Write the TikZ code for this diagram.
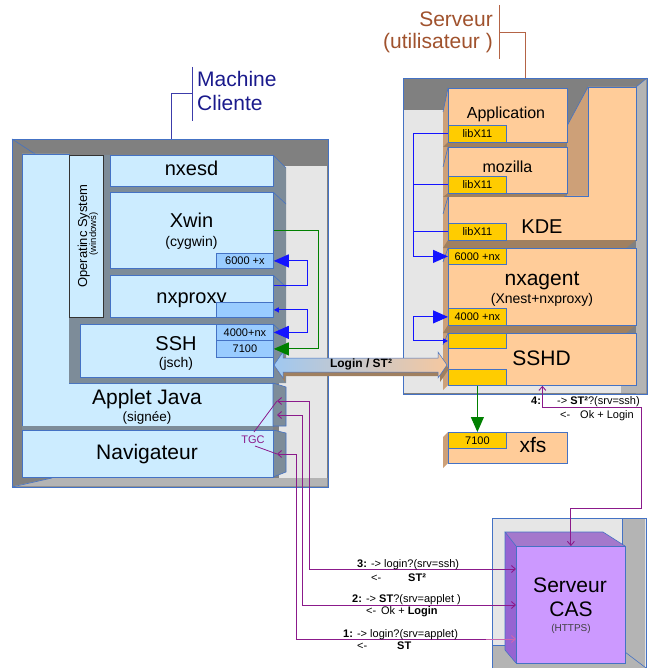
\documentclass[tikz,border=0pt]{standalone}
\usepackage{fontspec}
\setmainfont{Liberation Sans}
\usetikzlibrary{arrows.meta,calc}
\definecolor{cfill}{RGB}{204,236,255}
\definecolor{cborder}{RGB}{68,114,196}
\definecolor{cportc}{RGB}{153,204,255}
\definecolor{slate}{RGB}{125,140,153}
\definecolor{dgray}{RGB}{128,128,128}
\definecolor{lgray}{RGB}{230,230,230}
\definecolor{mgray}{RGB}{180,180,180}
\definecolor{sfill}{RGB}{255,204,153}
\definecolor{sportc}{RGB}{255,204,0}
\definecolor{shelf}{RGB}{160,128,96}
\definecolor{sside}{RGB}{205,160,120}
\definecolor{navyc}{RGB}{26,26,140}
\definecolor{navyl}{RGB}{60,60,170}
\definecolor{brownc}{RGB}{160,82,45}
\definecolor{brownl}{RGB}{180,100,70}
\definecolor{purp}{RGB}{139,26,139}
\definecolor{pinkp}{RGB}{204,102,176}
\definecolor{casfront}{RGB}{204,153,255}
\definecolor{castop}{RGB}{164,120,204}
\definecolor{casside}{RGB}{150,100,210}
\definecolor{bluec}{RGB}{20,20,255}
\definecolor{greenc}{RGB}{0,128,0}
\definecolor{arrl}{RGB}{160,200,240}
\definecolor{arrm}{RGB}{215,220,232}
\definecolor{arrr}{RGB}{245,200,160}
\newcommand{\fsz}[1]{\fontsize{#1}{#1}\selectfont}
\tikzset{
  bigtip/.tip={Triangle[length=15pt,width=13pt]},
  smalltip/.tip={Triangle[length=5pt,width=5pt]},
  barb/.tip={Straight Barb[length=4pt,width=7pt]},
  box/.style={draw=cborder, line width=0.8pt, inner sep=0pt, anchor=north west},
  cbox/.style={box, fill=cfill},
  cprt/.style={box, fill=cportc, font=\fsz{11}},
  sbox/.style={box, fill=sfill},
  sprt/.style={box, fill=sportc, font=\fsz{11}},
  frame/.style={draw=cborder, line width=1.2pt, inner sep=0pt, anchor=north west},
  lbl/.style={anchor=base, inner sep=0pt},
  lblw/.style={anchor=base west, inner sep=0pt, font=\fsz{11}},
  edge/.style={draw=cborder, line width=0.6pt},
  bl/.style={draw=bluec, line width=1pt},
  gl/.style={draw=greenc, line width=1pt},
  pl/.style={draw=purp, line width=0.9pt},
}
\begin{document}
\begin{tikzpicture}[x=1pt,y=-1pt]
\useasboundingbox (0,0) rectangle (654,668);

%% ---------------- labels with brackets
\node[lbl, anchor=base west, font=\fsz{21}, text=navyc] (mc1) at (197,87) {Machine};
\node[lbl, anchor=base west, font=\fsz{21}, text=navyc] (mc2) at (197,111) {Cliente};
\draw[navyl, line width=0.9pt] (192,67) -- (192,121);
\node[lbl, anchor=base east, font=\fsz{21}, text=brownc] (sv1) at (493,27) {Serveur};
\node[lbl, anchor=base east, font=\fsz{21}, text=brownc] (sv2) at (493,49) {(utilisateur )};
\draw[brownl, line width=0.9pt] (499,5) -- (499,59);

%% ---------------- client machine
\node[frame, fill=dgray, minimum width=316pt, minimum height=348pt] (client) at (12,139) {};
\fill[lgray] (279,166) rectangle (327.4,478);
\fill[mgray] (12.6,486.4) -- (52,478) -- (327.4,478) -- (327.4,486.4) -- cycle;
\draw[edge] (12,139) -- (35,154);
\draw[edge] (12,487) -- (52,478);
\coordinate (cb) at (171,93);
\draw[navyl, line width=0.9pt] (cb |- client.north) -- (cb) -- ++(21,0);

\filldraw[fill=cfill, draw=cborder, line width=0.8pt]
  (22,154) -- (69,154) -- (69,383) -- (273,383) -- (273,426) -- (22,426) -- cycle;
\fill[slate] (22,426.4) rectangle (273,430);
\fill[slate] (103,155) -- (273,155) -- (286,168) -- (286,383) -- (69,383) -- (69,317) -- (103,317) -- cycle;
\node[box, fill=cfill, draw=black!80, minimum width=34pt, minimum height=162pt] (os) at (69,155) {};
\node[lbl, rotate=90, font=\fsz{13}] (tos) at (87,236) {Operatinc System};
\node[lbl, rotate=90, font=\fsz{9.5}] (twin) at (96,234) {(windows)};

\node[cbox, minimum width=163pt, minimum height=31pt] (nxesd) at (110,155) {};
\node[cbox, minimum width=163pt, minimum height=76pt] (xwin) at (110,192) {};
\node[cbox, minimum width=163pt, minimum height=42pt] (nxproxy) at (110,275) {};
\node[cbox, minimum width=193pt, minimum height=53pt] (ssh) at (80,324) {};
\draw[edge] (273,155) -- (286,168);
\draw[edge] (273,192) -- (286,204);
\draw[edge] (273,275) -- (286,287);
\draw[edge] (273,324) -- (286,336);

\node[lbl, font=\fsz{20}] (tnxesd) at (191.5,176) {nxesd};
\node[lbl, font=\fsz{20}] (txwin) at (191.5,227) {Xwin};
\node[lbl, font=\fsz{14}] (tcyg) at (191.5,246) {(cygwin)};
\node[lbl, font=\fsz{20}] (tnxp) at (191.5,303) {nxproxy};
\node[lbl, font=\fsz{20}] (tssh) at (176,350) {SSH};
\node[lbl, font=\fsz{14}] (tjsch) at (176,367) {(jsch)};

\node[cprt, minimum width=57pt, minimum height=15pt] (p6000x) at (216,253) {6000 +x};
\node[cprt, minimum width=57pt, minimum height=15pt] (pnxp) at (216,302) {};
\node[cprt, minimum width=57pt, minimum height=16pt] (p4000) at (216,324) {4000+nx};
\node[cprt, minimum width=57pt, minimum height=17pt] (p7100c) at (216,340) {7100};

\filldraw[fill=slate, draw=cborder, line width=0.6pt] (273,383) -- (286,387) -- (286,426) -- (273,426) -- cycle;
\filldraw[fill=slate, draw=cborder, line width=0.6pt] (273,430) -- (286,433) -- (286,472) -- (273,477) -- cycle;
\node[box, draw=none, minimum width=251pt, minimum height=43pt] (applet) at (22,383) {};
\node[cbox, minimum width=251pt, minimum height=47pt] (navig) at (22,430) {};
\node[lbl, font=\fsz{21}] (tapp) at (147,404) {Applet Java};
\node[lbl, font=\fsz{13.5}] (tsig) at (147,421) {(signée)};
\node[lbl, font=\fsz{21}] (tnav) at (147,459) {Navigateur};

%% ---------------- server
\node[frame, fill=dgray, minimum width=244pt, minimum height=316pt] (server) at (403,78) {};
\coordinate (sb) at (525,32);
\draw[brownl, line width=0.9pt] (499,32) -- (sb) -- (sb |- server.north);
\fill[lgray] (403.6,110) rectangle (445,393.4);
\fill[lgray] (403.6,385) rectangle (621,393.4);
\fill[mgray] (621,385) rectangle (646.4,393.4);
\fill[mgray] (636,87) -- (646.4,78.6) -- (646.4,393.4) -- (636,393.4) -- cycle;
\draw[edge] (636,87) -- (647,78);
\fill[sside] (443,112) -- (448,88) -- (448,385) -- (443,390) -- cycle;
\fill[sside] (567,126) -- (588,87) -- (588,196) -- (567,196) -- cycle;
\draw[edge] (567,126) -- (588,87);
\filldraw[fill=sfill, draw=cborder, line width=0.8pt]
  (448,196) -- (588,196) -- (588,87) -- (636,87) -- (636,240) -- (448,240) -- cycle;
\fill[shelf] (448,142) -- (567,142) -- (564,147) -- (443,147) -- cycle;
\fill[shelf] (448,193) -- (567,193) -- (564,197) -- (443,197) -- cycle;
\fill[shelf] (448,240) -- (636,240) -- (626,248) -- (443,248) -- cycle;
\fill[shelf] (448,325) -- (636,325) -- (626,333) -- (443,333) -- cycle;
\node[sbox, minimum width=119pt, minimum height=54pt] (appl) at (448,88) {};
\node[sbox, minimum width=119pt, minimum height=46pt] (moz) at (448,147) {};
\node[sbox, minimum width=188pt, minimum height=77pt] (nxagent) at (448,248) {};
\node[sbox, minimum width=188pt, minimum height=52pt] (sshd) at (448,333) {};
\draw[edge] (448,88) -- (443,112);
\draw[edge] (448,147) -- (443,167);
\draw[edge] (448,197) -- (443,214);
\draw[edge] (448,248) -- (443,262);
\draw[edge] (448,333) -- (443,345);

\node[lbl, font=\fsz{16}] (tappl) at (506,119) {Application};
\node[lbl, font=\fsz{16}] (tmoz) at (507.5,173) {mozilla};
\node[lbl, font=\fsz{20}] (tkde) at (542,233) {KDE};
\node[lbl, font=\fsz{21}] (tnxa) at (542,285) {nxagent};
\node[lbl, font=\fsz{14}] (txn) at (542,303) {(Xnest+nxproxy)};
\node[lbl, font=\fsz{21}] (tsshd) at (541.5,365) {SSHD};

\node[sprt, minimum width=58pt, minimum height=17pt] (lib1) at (448,125) {libX11};
\node[sprt, minimum width=58pt, minimum height=17pt] (lib2) at (448,176) {libX11};
\node[sprt, minimum width=58pt, minimum height=17pt] (lib3) at (448,223) {libX11};
\node[sprt, minimum width=58pt, minimum height=16pt] (p6000nx) at (448,248) {6000 +nx};
\node[sprt, minimum width=58pt, minimum height=17pt] (p4000nx) at (448,308) {4000 +nx};
\node[sprt, minimum width=58pt, minimum height=15pt] (sp1) at (448,333) {};
\node[sprt, minimum width=58pt, minimum height=16pt] (sp2) at (448,369) {};

%% xfs
\fill[sside] (443,437) -- (448,432) -- (448,463) -- (443,468) -- cycle;
\node[sbox, minimum width=119pt, minimum height=31pt] (xfs) at (448,432) {};
\node[sprt, minimum width=58pt, minimum height=16pt] (p7100s) at (448,432) {7100};
\node[lbl, font=\fsz{21}] (txfs) at (533,452) {xfs};

%% ---------------- Login arrow
\fill[shelf] (276,369) -- (285,356) -- (285,362) -- (440,362) -- (440,356) -- (449,369) -- (440,382) -- (440,376) -- (285,376) -- (285,382) -- cycle;
\shade[left color=arrl, middle color=arrm, right color=arrr, draw=cborder, line width=0.5pt]
  (274,365) -- (283,352) -- (283,358) -- (438,358) -- (438,352) -- (447,365) -- (438,378) -- (438,372) -- (283,372) -- (283,378) -- cycle;
\node[lbl, font=\bfseries\fsz{12}] (login) at (361,367) {Login / ST²};

%% ---------------- CAS
\node[frame, fill=lgray, minimum width=154pt, minimum height=160pt] (casbox) at (492,518) {};
\fill[mgray] (622,518.6) rectangle (645.4,668);
\fill[mgray] (492.6,645) rectangle (645.4,668);
\draw[edge] (492.6,645) -- (622,645) -- (622,518.6);
\fill[castop] (505,532) -- (603,532) -- (625,546) -- (516,546) -- cycle;
\fill[casside] (505,532) -- (516,546) -- (516,663) -- (505,650) -- cycle;
\draw[edge] (516,546) -- (505,532) -- (603,532) -- (625,546);
\draw[edge] (505,532) -- (505,650) -- (516,663);
\draw[edge] (625,652) -- (646,668);
\node[box, fill=casfront, minimum width=109pt, minimum height=117pt] (cas) at (516,546) {};
\node[lbl, font=\fsz{21}] (tcas1) at (570,592) {Serveur};
\node[lbl, font=\fsz{21}] (tcas2) at (571,616) {CAS};
\node[lbl, font=\fsz{10}, text=black!75] (tcas3) at (571,631) {(HTTPS)};

%% ---------------- connectors client
\draw[bl, -bigtip] ($(nxproxy.north east)+(0,10)$) -- ++(34,0) |- (p6000x.east);
\draw[bl, smalltip-bigtip] (pnxp.east) -- ++(34,0) |- (p4000.east);
\draw[gl, -{Triangle[length=15pt,width=13pt]}] (xwin.east) -- ++(45,0) |- (p7100c.east);

%% connectors server
\draw[bl, -bigtip] (lib1.west) -- ++(-35,0) |- (p6000nx.west);
\draw[bl] (lib2.west) -- ++(-35,0);
\draw[bl] (lib3.west) -- ++(-35,0);
\draw[bl, smalltip-bigtip] (sp1.west) -- ++(-35,0) |- (p4000nx.west);
\draw[gl, -{Triangle[length=15pt,width=13pt]}] (sp2.south) -- (p7100s.north);

%% ---------------- purple (CAS) connectors
\coordinate (a3) at (277,401);
\coordinate (a2) at (277,415);
\coordinate (n1) at (277,454);
\coordinate (r4) at (641,508);
\draw[pl, barb-barb] (a3) -- ++(32,0) |- ($(cas.north west)+(0,23)$);
\draw[pl, barb-barb] (a2) -- ++(25,0) |- ($(cas.north west)+(0,59)$);
\draw[pl, barb-] (n1) -- ++(19,0) |- ($(cas.north west)+(-30,93)$);
\draw[draw=pinkp, line width=0.9pt, -barb] ($(cas.north west)+(-30,93)$) -- ($(cas.north west)+(0,93)$);
\draw[pl, barb-barb] (sshd.south) -- ++(0,22) -| (r4) -| (cas.north);
\node[lbl, font=\fsz{11}, text=purp] (tgc) at (253,443) {TGC};
\draw[purp, line width=0.8pt] (254,432) -- (a3);
\draw[purp, line width=0.8pt] (255,446) -- (n1);

%% ---------------- message labels
\node[lblw] (m3a) at (357,567) {\textbf{3:} -> login?(srv=ssh)};
\node[lblw] (m3b) at (371,581) {<-};
\node[lblw] (m3c) at (408,581) {\textbf{ST²}};
\node[lblw] (m2a) at (352,602) {\textbf{2:} -> \textbf{ST}?(srv=applet )};
\node[lblw] (m2b) at (366,614) {<-\, Ok + \textbf{Login}};
\node[lblw] (m1a) at (343,637) {\textbf{1:} -> login?(srv=applet)};
\node[lblw] (m1b) at (357,649) {<-};
\node[lblw] (m1c) at (397,649) {\textbf{ST}};
\node[lblw] (m4a) at (531,404) {\textbf{4:}};
\node[lblw] (m4b) at (557,404) {-> \textbf{ST²}?(srv=ssh)};
\node[lblw] (m4c) at (560,418) {<-};
\node[lblw] (m4d) at (580,418) {Ok + Login};
\end{tikzpicture}
\end{document}
